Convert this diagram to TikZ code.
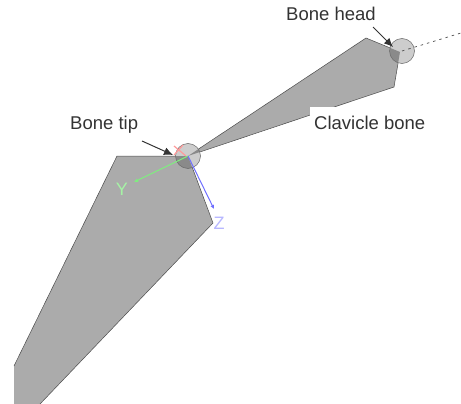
\documentclass[tikz,border=0pt]{standalone}
\usepackage{fontspec}
\setmainfont{Liberation Sans}
\usetikzlibrary{arrows.meta}
\definecolor{bonegray}{HTML}{ABABAB}
\definecolor{jointgray}{HTML}{CDCDCD}
\definecolor{overlapgray}{HTML}{8A8A8A}
\definecolor{labelgray}{HTML}{333333}
\definecolor{axisgreen}{HTML}{7FEE7F}
\definecolor{axisblue}{HTML}{6F6FFF}
\definecolor{axisred}{HTML}{FF9A9A}
\tikzset{
    bonelabel/.style={text=labelgray, font=\fontsize{18.5}{20}\selectfont, inner sep=1pt},
    axislabel/.style={font=\fontsize{18}{20}\selectfont, inner sep=0pt},
    callout/.style={-{Latex[length=9pt,width=8pt]}, line width=1pt, black!80},
    jointedge/.style={draw=black!60, line width=0.5pt}
}
\begin{document}
\begin{tikzpicture}[x=1pt, y=-1pt]
    \useasboundingbox (0,0) rectangle (461,404);

    % Bones
    \fill[bonegray] (14,366) -- (117,156) -- (188,156) -- (213,223) -- (40,404) -- (14,404) -- cycle;
    \fill[bonegray] (188,156) -- (366,38) -- (400,52) -- (394,87) -- cycle;
    \draw[black!70, line width=0.5pt] (14,366) -- (117,156) -- (188,156) -- (213,223) -- (40,404);
    \draw[black!70, line width=0.5pt] (188,156) -- (366,38) -- (400,52) -- (394,87) -- cycle;

    % Joints
    \coordinate (tip) at (188,156);
    \coordinate (head) at (402,51);
    \fill[jointgray] (tip) circle (12.5);
    \fill[jointgray] (head) circle (12.5);
    \begin{scope}
        \clip (14,366) -- (117,156) -- (188,156) -- (213,223) -- (40,404) -- (14,404) -- cycle;
        \fill[overlapgray] (tip) circle (12.5);
    \end{scope}
    \begin{scope}
        \clip (188,156) -- (366,38) -- (400,52) -- (394,87) -- cycle;
        \fill[overlapgray] (tip) circle (12.5);
        \fill[overlapgray] (head) circle (12.5);
    \end{scope}
    \draw[jointedge] (head) circle (12.5);
    \draw[jointedge] (tip) circle (12.5);
    \draw[black!70, dash pattern=on 2.5pt off 4pt, line width=0.7pt] (head) -- (461,33);

    % Axes
    \coordinate (yend) at (134,182);
    \coordinate (zend) at (214,209);
    \draw[axisred, line width=1.2pt] (174,146) -- (186,156);
    \draw[axisred, line width=1.2pt] (174,155) -- (183,145);
    \draw[axisgreen, line width=1pt, -{Latex[length=4pt,width=4pt]}] (tip) -- (yend);
    \draw[axisblue, line width=1pt, -{Latex[length=4pt,width=4pt]}] (tip) -- (zend);
    \node[axislabel, text=axisgreen!70] (ylabel) at (122,189) {Y};
    \node[axislabel, text=axisblue!50] (zlabel) at (219,223) {Z};

    % Labels and callouts
    \node[bonelabel, anchor=base west] (headlabel) at (285,21) {Bone head};
    \node[bonelabel, anchor=base west] (tiplabel) at (69,129) {Bone tip};
    \node[bonelabel, anchor=base west, fill=white, inner xsep=4pt, text height=21pt, text depth=8pt] (clavlabel) at (310,129) {Clavicle bone};
    \coordinate (headarrow) at (393,47);
    \coordinate (tiparrow) at (173,155);
    \draw[callout] (373,27) -- (headarrow);
    \draw[callout] (142,141) -- (tiparrow);
\end{tikzpicture}
\end{document}
